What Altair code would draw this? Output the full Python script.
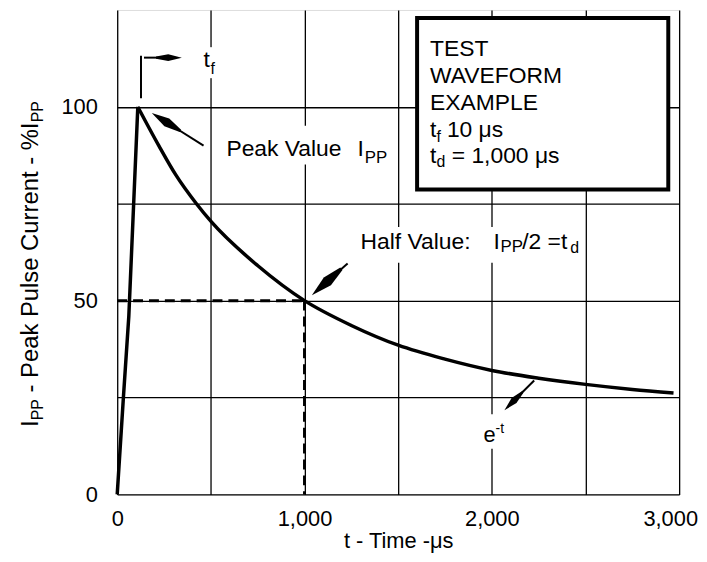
import altair as alt
import pandas as pd

FONT = "Liberation Sans"

# ---- curve data ----
rise_t = [0, 33, 62, 110]
rise_v = [0, 25, 46, 100]
decay_t = [110, 222, 312, 423, 503, 751, 1000, 1250, 1500, 1750, 2000, 2250, 2500, 2750, 2970]
decay_v = [100, 90, 82.5, 75, 70.3, 59, 50, 43.6, 38.5, 34.9, 32, 30, 28.4, 27.1, 26.2]

half_t = 1000
half_v = 50

x_domain = [0, 3000]
y_domain = [0, 125]
x_ticks = [0, 500, 1000, 1500, 2000, 2500, 3000]
y_ticks = [0, 25, 50, 75, 100]

# ---- annotation texts (data coordinates) ----
ann_text = ["t", "f", "Peak Value", "I", "PP", "Half Value:", "I", "PP", "/2 =t", "d",
            "e", "-t", "TEST", "WAVEFORM", "EXAMPLE", "t", "f", "10 μs", "t", "d", "= 1,000 μs"]
ann_t = [461, 498, 583, 1283, 1322, 1299, 2009, 2046, 2162, 2418,
         1956, 2020, 1670, 1670, 1670, 1670, 1704, 1760, 1670, 1704, 1786]
ann_v = [110.2, 108.6, 87.2, 87.2, 85.6, 63.4, 63.4, 62.6, 63.4, 62.2,
         13.5, 15.9, 113.0, 106.1, 99.2, 92.3, 91.0, 92.3, 85.6, 84.4, 85.6]
ann_fs = [23, 16, 23, 23, 17, 23, 23, 17, 23, 16,
          22, 14, 23, 23, 23, 23, 16, 23, 23, 16, 23]

# white backgrounds behind labels
bg_t1 = [435, 519, 1272, 1935]
bg_t2 = [572, 1489, 2490, 2088]
bg_v1 = [107.4, 85.1, 59.8, 11.8]
bg_v2 = [115.4, 95.1, 69.0, 20.7]

# legend-like box
box_t1, box_t2 = [1601], [2942]
box_v1, box_v2 = [78.7], [122.95]

# arrow shafts
sh_t1 = [127, 143, 461, 1230, 2226]
sh_v1 = [113.2, 112.7, 90.0, 59.6, 29.4]
sh_t2 = [127, 276, 261, 1118, 2116]
sh_v2 = [102.2, 112.7, 96.1, 54.8, 24.1]

# arrow heads
hd_t = [276, 261, 1118, 2116]
hd_v = [112.7, 96.1, 54.8, 24.1]
hd_angle = [90, 302, 228, 225]
hd_size = [676, 1156, 1600, 676]

ARROW = "M0,-1 L0.27,0.05 L0.08,1 L-0.08,1 L-0.27,0.05 Z"

x_axis = alt.Axis(
    values=x_ticks,
    labelExpr="datum.value % 1000 == 0 ? format(datum.value, ',') : ''",
    grid=True, ticks=False, domain=False,
    gridColor="black", gridWidth=1.3, gridOpacity=1,
    labelFont=FONT, labelFontSize=22, labelColor="black", labelPadding=14,
    labelFlush=False, labelOverlap=False,
    labelOffset={"condition": {"test": "datum.value == 3000", "value": -9}, "value": 0},
    title="t - Time -μs", titleFont=FONT, titleFontSize=22, titleFontWeight="normal",
    titleColor="black", titlePadding=1,
)
y_axis = alt.Axis(
    values=y_ticks,
    labelExpr="datum.value % 50 == 0 ? datum.label : ''",
    grid=True, ticks=False, domain=False,
    gridColor="black", gridWidth=1.3, gridOpacity=1,
    labelFont=FONT, labelFontSize=22, labelColor="black", labelPadding=20,
    labelOverlap=False, title=None,
)

xs = alt.Scale(domain=x_domain, nice=False, zero=False)
ys = alt.Scale(domain=y_domain, nice=False, zero=False)


def X(f):
    return alt.X(f, type="quantitative", scale=xs, axis=x_axis)


def Y(f):
    return alt.Y(f, type="quantitative", scale=ys, axis=y_axis)


bg_df = pd.DataFrame({"t1": bg_t1, "t2": bg_t2, "v1": bg_v1, "v2": bg_v2})
bg = alt.Chart(bg_df).mark_rect(fill="white").encode(
    x=X("t1"), x2="t2", y=Y("v1"), y2="v2")

box_df = pd.DataFrame({"t1": box_t1, "t2": box_t2, "v1": box_v1, "v2": box_v2})
box = alt.Chart(box_df).mark_rect(fill="white", stroke="black", strokeWidth=4).encode(
    x=X("t1"), x2="t2", y=Y("v1"), y2="v2")

dash_df = pd.DataFrame({"t1": [0, half_t], "t2": [half_t, half_t],
                        "v1": [half_v, half_v], "v2": [half_v, 0]})
dashes = alt.Chart(dash_df).mark_rule(color="black", strokeWidth=3, strokeDash=[10, 6]).encode(
    x=X("t1"), x2="t2", y=Y("v1"), y2="v2")

rise = alt.Chart(pd.DataFrame({"t": rise_t, "v": rise_v})).mark_line(
    color="black", strokeWidth=3.5).encode(x=X("t"), y=Y("v"))
decay = alt.Chart(pd.DataFrame({"t": decay_t, "v": decay_v})).mark_line(
    color="black", strokeWidth=3.5, interpolate="monotone").encode(x=X("t"), y=Y("v"))

sh_df = pd.DataFrame({"t1": sh_t1, "t2": sh_t2, "v1": sh_v1, "v2": sh_v2})
shafts = alt.Chart(sh_df).mark_rule(color="black", strokeWidth=2).encode(
    x=X("t1"), x2="t2", y=Y("v1"), y2="v2")

hd_df = pd.DataFrame({"t": hd_t, "v": hd_v, "angle": hd_angle, "size": hd_size})
heads = alt.Chart(hd_df).mark_point(shape=ARROW, filled=True, color="black", opacity=1).encode(
    x=X("t"), y=Y("v"),
    angle=alt.Angle("angle:Q", scale=None),
    size=alt.Size("size:Q", scale=None))

ann_df = pd.DataFrame({"text": ann_text, "t": ann_t, "v": ann_v, "fs": ann_fs})
texts = alt.Chart(ann_df).mark_text(align="left", baseline="alphabetic", font=FONT,
                                    color="black").encode(
    x=X("t"), y=Y("v"), text="text:N", size=alt.Size("fs:Q", scale=None))

# ---- composed y-axis title with subscripts (pixel positions) ----
W = {' ': 278, '-': 333, 'P': 667, 'e': 556, 'a': 556, 'k': 500, 'u': 556, 'l': 222,
     's': 500, 'C': 722, 'r': 333, 'n': 556, 't': 278, '%': 889, 'I': 278}


def width(s, fs):
    return sum(W.get(c, 556) for c in s) * fs / 1000.0


big, small = 24, 16
base_x, sub_x = -80, -75
y0 = 420
pieces = []
pieces.append(("I", big, base_x, y0))
y1 = y0 - width("I", big)
pieces.append(("PP", small, sub_x, y1))
y2 = y1 - width("PP", small) - width(" ", big)
mid = "- Peak Pulse Current - %I"
pieces.append((mid, big, base_x, y2))
y3 = y2 - width(mid, big)
pieces.append(("PP", small, sub_x, y3))

one = pd.DataFrame({"a": [0]})
ytitle = []
for txt, fs, px, py in pieces:
    ytitle.append(alt.Chart(one).mark_text(text=txt, angle=270, align="left",
                                           baseline="alphabetic", font=FONT,
                                           fontSize=fs, color="black").encode(
        x=alt.value(px), y=alt.value(py)))

chart = alt.layer(bg, box, dashes, rise, decay, shafts, heads, texts, *ytitle).properties(
    width=566, height=488,
    autosize=alt.AutoSizeParams(type="none"),
    padding={"left": 110, "top": 0, "right": 20, "bottom": 58},
).configure_view(stroke="black", strokeWidth=2).configure(background="white")

chart.save("out.html", embed_options={"renderer": "svg", "actions": False})
